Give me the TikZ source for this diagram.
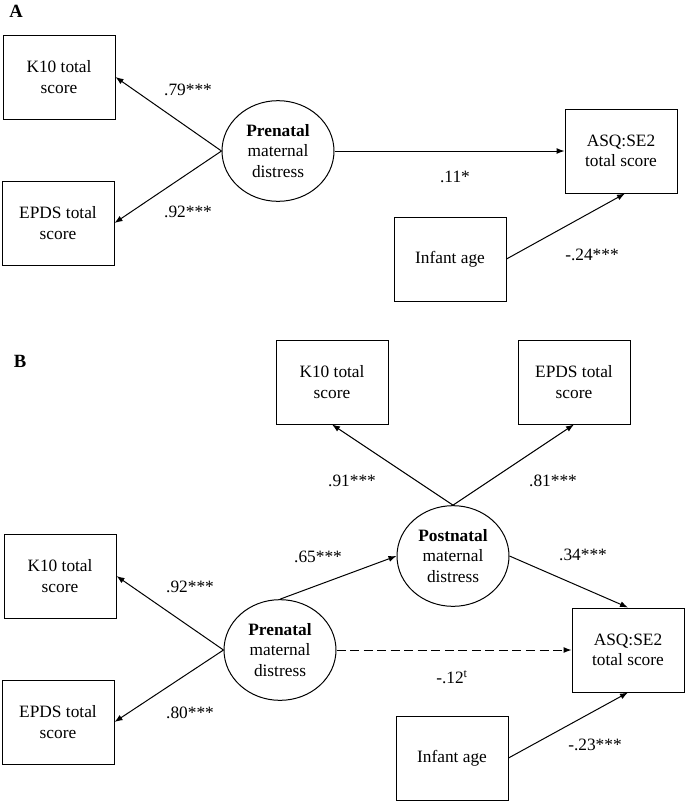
\documentclass[tikz,border=0pt]{standalone}
\usepackage{fontspec}
\setmainfont{Liberation Serif}
\usetikzlibrary{shapes.geometric,arrows.meta}
\begin{document}
\begin{tikzpicture}[x=0.75pt,y=-0.75pt,
  every node/.style={font=\fontsize{13}{15.5}\selectfont},
  obsbox/.style={draw,line width=0.75pt,minimum width=84pt,minimum height=63pt,inner sep=0pt,align=center},
  latent/.style={draw,ellipse,line width=0.75pt,minimum width=84pt,minimum height=75.5pt,inner sep=0pt,align=center},
  coef/.style={inner sep=0pt,anchor=center},
  panel/.style={inner sep=0pt,font=\fontsize{14}{16}\selectfont\bfseries},
  path/.style={line width=0.75pt,-{Latex[length=6pt,width=4.5pt]}},
  dashpath/.style={path,dash pattern=on 6.75pt off 3.4pt}]
\useasboundingbox (0,0) rectangle (685,801);

% Panel A
\node[panel] (labA) at (16,11) {A};
\node[obsbox] (k10a) at (59,77) {K10 total\\score};
\node[obsbox] (epdsa) at (58,223) {EPDS total\\score};
\node[latent] (prea) at (278,151) {\textbf{Prenatal}\\maternal\\distress};
\node[obsbox] (asqa) at (621,151) {ASQ:SE2\\total score};
\node[obsbox] (infa) at (450,259) {Infant age};

\draw[path] (prea.west) -- (k10a.east);
\draw[path] (prea.west) -- (epdsa.east);
\draw[path] (prea.east) -- (asqa.west);
\draw[path] (infa.east) -- ([xshift=3pt]asqa.south);

\node[coef] (ca1) at (188,90) {.79***};
\node[coef] (ca2) at (188,212) {.92***};
\node[coef] (ca3) at (455,177) {.11*};
\node[coef] (ca4) at (592,255) {-.24***};

% Panel B
\node[panel] (labB) at (20,361) {B};
\node[obsbox] (k10t) at (332,382) {K10 total\\score};
\node[obsbox] (epdst) at (574,382) {EPDS total\\score};
\node[latent] (post) at (453,556) {\textbf{Postnatal}\\maternal\\distress};
\node[latent] (preb) at (280,650) {\textbf{Prenatal}\\maternal\\distress};
\node[obsbox] (k10b) at (60,576) {K10 total\\score};
\node[obsbox] (epdsb) at (58,722) {EPDS total\\score};
\node[obsbox] (asqb) at (628,650) {ASQ:SE2\\total score};
\node[obsbox] (infb) at (452,758) {Infant age};

\draw[path] (post.north) -- (k10t.south);
\draw[path] (post.north) -- (epdst.south);
\draw[path] (preb.north) -- (post.west);
\draw[path] (post.east) -- (asqb.north);
\draw[path] (preb.west) -- (k10b.east);
\draw[path] (preb.west) -- (epdsb.east);
\draw[dashpath] (preb.east) -- (asqb.west);
\draw[path] (infb.east) -- (asqb.south);

\node[coef] (cb1) at (352,481) {.91***};
\node[coef] (cb2) at (553,481) {.81***};
\node[coef] (cb3) at (318,557) {.65***};
\node[coef] (cb4) at (583,555) {.34***};
\node[coef] (cb5) at (190,587) {.92***};
\node[coef] (cb6) at (190,713) {.80***};
\node[coef] (cb7) at (452,677) {-.12\textsuperscript{t}};
\node[coef] (cb8) at (595,745) {-.23***};
\end{tikzpicture}
\end{document}
